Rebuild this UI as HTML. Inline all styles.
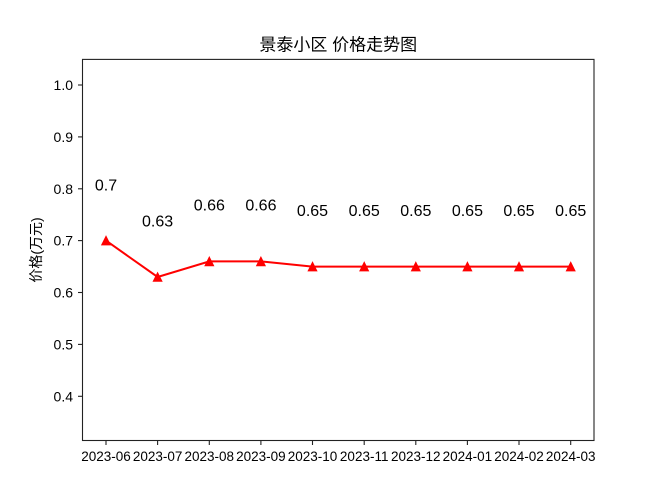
<!DOCTYPE html>
<html><head><meta charset="utf-8"><style>
html,body{margin:0;padding:0;background:#fff;}
svg{display:block;}
text{font-family:"Liberation Sans","Noto Sans CJK SC",sans-serif;fill:#000;}
</style></head><body>
<svg width="660" height="495" viewBox="0 0 660 495" xmlns="http://www.w3.org/2000/svg">
<rect width="660" height="495" fill="#fff"/>
<!-- title -->
<text x="338.3" y="50.5" font-size="17" text-anchor="middle">景泰小区 价格走势图</text>
<!-- y label -->
<text transform="translate(41,250) rotate(-90)" font-size="14" text-anchor="middle">价格(万元)</text>
<!-- axes frame -->
<rect x="82.5" y="59.4" width="511.5" height="381.1" fill="none" stroke="#222" stroke-width="1.1"/>
<!-- y ticks -->
<g stroke="#222" stroke-width="1.1">
<line x1="78" y1="85" x2="82.5" y2="85"/>
<line x1="78" y1="136.9" x2="82.5" y2="136.9"/>
<line x1="78" y1="188.8" x2="82.5" y2="188.8"/>
<line x1="78" y1="240.6" x2="82.5" y2="240.6"/>
<line x1="78" y1="292.5" x2="82.5" y2="292.5"/>
<line x1="78" y1="344.4" x2="82.5" y2="344.4"/>
<line x1="78" y1="396.3" x2="82.5" y2="396.3"/>
</g>
<g font-size="14" text-anchor="end">
<text x="73" y="90">1.0</text>
<text x="73" y="141.9">0.9</text>
<text x="73" y="193.8">0.8</text>
<text x="73" y="245.6">0.7</text>
<text x="73" y="297.5">0.6</text>
<text x="73" y="349.4">0.5</text>
<text x="73" y="401.3">0.4</text>
</g>
<!-- x ticks -->
<g stroke="#222" stroke-width="1.1">
<line x1="106" y1="440.5" x2="106" y2="445"/>
<line x1="157.6" y1="440.5" x2="157.6" y2="445"/>
<line x1="209.3" y1="440.5" x2="209.3" y2="445"/>
<line x1="260.9" y1="440.5" x2="260.9" y2="445"/>
<line x1="312.5" y1="440.5" x2="312.5" y2="445"/>
<line x1="364.2" y1="440.5" x2="364.2" y2="445"/>
<line x1="415.8" y1="440.5" x2="415.8" y2="445"/>
<line x1="467.4" y1="440.5" x2="467.4" y2="445"/>
<line x1="519.0" y1="440.5" x2="519.0" y2="445"/>
<line x1="570.7" y1="440.5" x2="570.7" y2="445"/>
</g>
<g font-size="13.5" text-anchor="middle">
<text x="106" y="461">2023-06</text>
<text x="157.6" y="461">2023-07</text>
<text x="209.3" y="461">2023-08</text>
<text x="260.9" y="461">2023-09</text>
<text x="312.5" y="461">2023-10</text>
<text x="364.2" y="461">2023-11</text>
<text x="415.8" y="461">2023-12</text>
<text x="467.4" y="461">2024-01</text>
<text x="519.0" y="461">2024-02</text>
<text x="570.7" y="461">2024-03</text>
</g>
<!-- line -->
<polyline fill="none" stroke="#f00" stroke-width="2" points="106,240.6 157.6,277 209.3,261.4 260.9,261.4 312.5,266.6 364.2,266.6 415.8,266.6 467.4,266.6 519.0,266.6 570.7,266.6"/>
<!-- markers -->
<g fill="#f00" stroke="#f00" stroke-width="1">
<polygon points="106,236.3 101.7,244.9 110.3,244.9"/>
<polygon points="157.6,272.7 153.3,281.3 161.9,281.3"/>
<polygon points="209.3,257.1 205,265.7 213.6,265.7"/>
<polygon points="260.9,257.1 256.6,265.7 265.2,265.7"/>
<polygon points="312.5,262.3 308.2,270.9 316.8,270.9"/>
<polygon points="364.2,262.3 359.9,270.9 368.5,270.9"/>
<polygon points="415.8,262.3 411.5,270.9 420.1,270.9"/>
<polygon points="467.4,262.3 463.1,270.9 471.7,270.9"/>
<polygon points="519.0,262.3 514.7,270.9 523.3,270.9"/>
<polygon points="570.7,262.3 566.4,270.9 575,270.9"/>
</g>
<!-- annotations -->
<g font-size="16" text-anchor="middle">
<text x="106" y="190.5">0.7</text>
<text x="157.6" y="226.5">0.63</text>
<text x="209.3" y="210.5">0.66</text>
<text x="260.9" y="210.5">0.66</text>
<text x="312.5" y="216">0.65</text>
<text x="364.2" y="216">0.65</text>
<text x="415.8" y="216">0.65</text>
<text x="467.4" y="216">0.65</text>
<text x="519.0" y="216">0.65</text>
<text x="570.7" y="216">0.65</text>
</g>
</svg>
</body></html>
